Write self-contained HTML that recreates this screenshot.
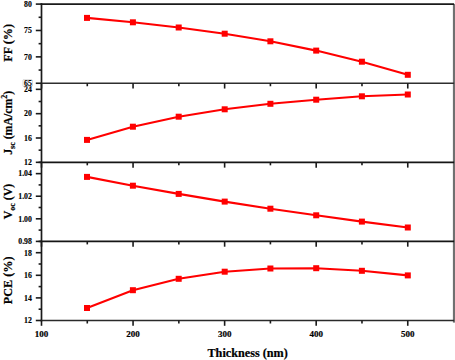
<!DOCTYPE html>
<html><head><meta charset="utf-8"><title>Thickness chart</title>
<style>
html,body{margin:0;padding:0;background:#fff;}
body{width:455px;height:360px;overflow:hidden;font-family:"Liberation Serif",serif;}
svg{display:block;}
</style></head>
<body>
<svg width="455" height="360" viewBox="0 0 455 360">
<rect width="455" height="360" fill="#fff"/>
<rect x="452.9" y="4.1" width="2.2" height="318.50" fill="#707070"/>
<g stroke="#1a1a1a" stroke-width="1.7" fill="none" stroke-linecap="butt">
<line x1="41.5" y1="3.2499999999999996" x2="41.5" y2="321.35"/>
</g>
<line x1="40.65" y1="4.1" x2="454.1" y2="4.1" stroke="#1a1a1a" stroke-width="1.7"/>
<line x1="40.65" y1="83.25" x2="454.1" y2="83.25" stroke="#2e2e2e" stroke-width="1.45"/>
<line x1="40.65" y1="162.33" x2="454.1" y2="162.33" stroke="#151515" stroke-width="1.6"/>
<line x1="40.65" y1="241.4" x2="454.1" y2="241.4" stroke="#151515" stroke-width="1.6"/>
<line x1="40.65" y1="320.5" x2="454.1" y2="320.5" stroke="#2a2a2a" stroke-width="1.45"/>
<g stroke="#1a1a1a" stroke-width="1.6" fill="none">
<line x1="35.8" y1="83.25" x2="41.5" y2="83.25"/>
<line x1="35.8" y1="56.87" x2="41.5" y2="56.87"/>
<line x1="35.8" y1="30.48" x2="41.5" y2="30.48"/>
<line x1="35.8" y1="4.10" x2="41.5" y2="4.10"/>
<line x1="38.6" y1="70.06" x2="41.5" y2="70.06"/>
<line x1="38.6" y1="43.67" x2="41.5" y2="43.67"/>
<line x1="38.6" y1="17.29" x2="41.5" y2="17.29"/>
<line x1="41.50" y1="83.25" x2="41.50" y2="88.55"/>
<line x1="87.28" y1="83.25" x2="87.28" y2="86.25"/>
<line x1="133.06" y1="83.25" x2="133.06" y2="88.55"/>
<line x1="178.85" y1="83.25" x2="178.85" y2="86.25"/>
<line x1="224.63" y1="83.25" x2="224.63" y2="88.55"/>
<line x1="270.41" y1="83.25" x2="270.41" y2="86.25"/>
<line x1="316.19" y1="83.25" x2="316.19" y2="88.55"/>
<line x1="361.98" y1="83.25" x2="361.98" y2="86.25"/>
<line x1="407.76" y1="83.25" x2="407.76" y2="88.55"/>
<line x1="35.8" y1="162.33" x2="41.5" y2="162.33"/>
<line x1="35.8" y1="138.00" x2="41.5" y2="138.00"/>
<line x1="35.8" y1="113.67" x2="41.5" y2="113.67"/>
<line x1="35.8" y1="89.33" x2="41.5" y2="89.33"/>
<line x1="38.6" y1="150.16" x2="41.5" y2="150.16"/>
<line x1="38.6" y1="125.83" x2="41.5" y2="125.83"/>
<line x1="38.6" y1="101.50" x2="41.5" y2="101.50"/>
<line x1="41.50" y1="162.33" x2="41.50" y2="167.63"/>
<line x1="87.28" y1="162.33" x2="87.28" y2="165.33"/>
<line x1="133.06" y1="162.33" x2="133.06" y2="167.63"/>
<line x1="178.85" y1="162.33" x2="178.85" y2="165.33"/>
<line x1="224.63" y1="162.33" x2="224.63" y2="167.63"/>
<line x1="270.41" y1="162.33" x2="270.41" y2="165.33"/>
<line x1="316.19" y1="162.33" x2="316.19" y2="167.63"/>
<line x1="361.98" y1="162.33" x2="361.98" y2="165.33"/>
<line x1="407.76" y1="162.33" x2="407.76" y2="167.63"/>
<line x1="35.8" y1="241.40" x2="41.5" y2="241.40"/>
<line x1="35.8" y1="218.81" x2="41.5" y2="218.81"/>
<line x1="35.8" y1="196.22" x2="41.5" y2="196.22"/>
<line x1="35.8" y1="173.63" x2="41.5" y2="173.63"/>
<line x1="38.6" y1="230.10" x2="41.5" y2="230.10"/>
<line x1="38.6" y1="207.51" x2="41.5" y2="207.51"/>
<line x1="38.6" y1="184.92" x2="41.5" y2="184.92"/>
<line x1="38.6" y1="162.33" x2="41.5" y2="162.33"/>
<line x1="41.50" y1="241.4" x2="41.50" y2="246.70"/>
<line x1="87.28" y1="241.4" x2="87.28" y2="244.40"/>
<line x1="133.06" y1="241.4" x2="133.06" y2="246.70"/>
<line x1="178.85" y1="241.4" x2="178.85" y2="244.40"/>
<line x1="224.63" y1="241.4" x2="224.63" y2="246.70"/>
<line x1="270.41" y1="241.4" x2="270.41" y2="244.40"/>
<line x1="316.19" y1="241.4" x2="316.19" y2="246.70"/>
<line x1="361.98" y1="241.4" x2="361.98" y2="244.40"/>
<line x1="407.76" y1="241.4" x2="407.76" y2="246.70"/>
<line x1="35.8" y1="320.50" x2="41.5" y2="320.50"/>
<line x1="35.8" y1="297.90" x2="41.5" y2="297.90"/>
<line x1="35.8" y1="275.30" x2="41.5" y2="275.30"/>
<line x1="35.8" y1="252.70" x2="41.5" y2="252.70"/>
<line x1="38.6" y1="309.20" x2="41.5" y2="309.20"/>
<line x1="38.6" y1="286.60" x2="41.5" y2="286.60"/>
<line x1="38.6" y1="264.00" x2="41.5" y2="264.00"/>
<line x1="38.6" y1="241.40" x2="41.5" y2="241.40"/>
<line x1="41.50" y1="320.5" x2="41.50" y2="325.80"/>
<line x1="87.28" y1="320.5" x2="87.28" y2="323.50"/>
<line x1="133.06" y1="320.5" x2="133.06" y2="325.80"/>
<line x1="178.85" y1="320.5" x2="178.85" y2="323.50"/>
<line x1="224.63" y1="320.5" x2="224.63" y2="325.80"/>
<line x1="270.41" y1="320.5" x2="270.41" y2="323.50"/>
<line x1="316.19" y1="320.5" x2="316.19" y2="325.80"/>
<line x1="361.98" y1="320.5" x2="361.98" y2="323.50"/>
<line x1="407.76" y1="320.5" x2="407.76" y2="325.80"/>
</g>
<g font-family="Liberation Serif" font-weight="bold" font-size="7.8" fill="#000" stroke="#000" stroke-width="0.15" text-anchor="end">
<text x="31.9" y="92.13">24</text>
<rect x="23" y="79.95" width="9.5" height="6.3" fill="#fff"/>
<text x="31.9" y="86.05">65</text>
<text x="31.9" y="59.67">70</text>
<text x="31.9" y="33.28">75</text>
<text x="31.9" y="6.90">80</text>
<text x="31.9" y="165.13">12</text>
<text x="31.9" y="140.80">16</text>
<text x="31.9" y="116.47">20</text>
<text x="31.9" y="244.20">0.98</text>
<text x="31.9" y="221.61">1.00</text>
<text x="31.9" y="199.02">1.02</text>
<text x="31.9" y="176.43">1.04</text>
<text x="31.9" y="323.30">12</text>
<text x="31.9" y="300.70">14</text>
<text x="31.9" y="278.10">16</text>
<text x="31.9" y="255.50">18</text>
</g>
<g font-family="Liberation Serif" font-weight="bold" font-size="9.0" fill="#000" stroke="#000" stroke-width="0.2" text-anchor="middle">
<text x="41.50" y="337.0">100</text>
<text x="133.06" y="337.0">200</text>
<text x="224.63" y="337.0">300</text>
<text x="316.19" y="337.0">400</text>
<text x="407.76" y="337.0">500</text>
</g>
<g font-family="Liberation Serif" font-weight="bold" font-size="12.2" fill="#000" stroke="#000" stroke-width="0.2">
<text x="247.6" y="356.6" text-anchor="middle">Thickness (nm)</text>
<text transform="translate(12.1,42.8) rotate(-90)" text-anchor="middle">FF (%)</text>
<text transform="translate(12.1,122.8) rotate(-90)" text-anchor="middle" font-size="11.8">J<tspan font-size="8" dy="2.6">sc</tspan><tspan dy="-2.6"> (mA/cm</tspan><tspan font-size="8" dy="-5.0">2</tspan><tspan dy="5.0">)</tspan></text>
<text transform="translate(12.1,201.5) rotate(-90)" text-anchor="middle" font-size="11.8">V<tspan font-size="8" dy="2.6">oc</tspan><tspan dy="-2.6"> (V)</tspan></text>
<text transform="translate(12.1,280.4) rotate(-90)" text-anchor="middle">PCE (%)</text>
</g>
<g fill="none" stroke="#ff0000" stroke-width="2.1" stroke-linejoin="round">
<polyline points="87.00,17.90 132.90,22.30 178.70,27.50 224.70,33.70 270.40,41.30 316.20,50.60 361.90,61.70 407.80,74.80"/>
<polyline points="87.00,139.90 132.90,126.70 178.70,116.70 224.70,109.30 270.40,103.80 316.20,99.70 361.90,96.30 407.80,94.50"/>
<polyline points="87.00,176.90 132.90,185.70 178.70,193.90 224.70,201.60 270.40,208.70 316.20,215.30 361.90,221.60 407.80,227.50"/>
<polyline points="87.00,308.00 132.90,290.20 178.70,278.80 224.70,271.70 270.40,268.50 316.20,268.20 361.90,270.80 407.80,275.40"/>
</g>
<g fill="#ff0000">
<rect x="84.00" y="14.90" width="6.0" height="6.0"/>
<rect x="129.90" y="19.30" width="6.0" height="6.0"/>
<rect x="175.70" y="24.50" width="6.0" height="6.0"/>
<rect x="221.70" y="30.70" width="6.0" height="6.0"/>
<rect x="267.40" y="38.30" width="6.0" height="6.0"/>
<rect x="313.20" y="47.60" width="6.0" height="6.0"/>
<rect x="358.90" y="58.70" width="6.0" height="6.0"/>
<rect x="404.80" y="71.80" width="6.0" height="6.0"/>
<rect x="84.00" y="136.90" width="6.0" height="6.0"/>
<rect x="129.90" y="123.70" width="6.0" height="6.0"/>
<rect x="175.70" y="113.70" width="6.0" height="6.0"/>
<rect x="221.70" y="106.30" width="6.0" height="6.0"/>
<rect x="267.40" y="100.80" width="6.0" height="6.0"/>
<rect x="313.20" y="96.70" width="6.0" height="6.0"/>
<rect x="358.90" y="93.30" width="6.0" height="6.0"/>
<rect x="404.80" y="91.50" width="6.0" height="6.0"/>
<rect x="84.00" y="173.90" width="6.0" height="6.0"/>
<rect x="129.90" y="182.70" width="6.0" height="6.0"/>
<rect x="175.70" y="190.90" width="6.0" height="6.0"/>
<rect x="221.70" y="198.60" width="6.0" height="6.0"/>
<rect x="267.40" y="205.70" width="6.0" height="6.0"/>
<rect x="313.20" y="212.30" width="6.0" height="6.0"/>
<rect x="358.90" y="218.60" width="6.0" height="6.0"/>
<rect x="404.80" y="224.50" width="6.0" height="6.0"/>
<rect x="84.00" y="305.00" width="6.0" height="6.0"/>
<rect x="129.90" y="287.20" width="6.0" height="6.0"/>
<rect x="175.70" y="275.80" width="6.0" height="6.0"/>
<rect x="221.70" y="268.70" width="6.0" height="6.0"/>
<rect x="267.40" y="265.50" width="6.0" height="6.0"/>
<rect x="313.20" y="265.20" width="6.0" height="6.0"/>
<rect x="358.90" y="267.80" width="6.0" height="6.0"/>
<rect x="404.80" y="272.40" width="6.0" height="6.0"/>
</g>
</svg>
</body></html>
